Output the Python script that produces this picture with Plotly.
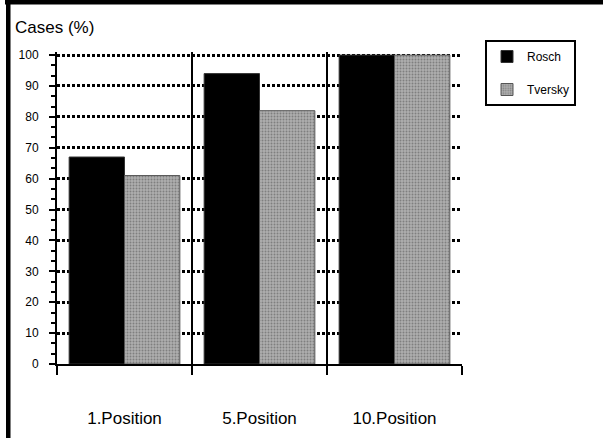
import plotly.graph_objects as go

# Share of cases (%) for each position
positions = ["1.Position", "5.Position", "10.Position"]
rosch = [67, 94, 100]
tversky = [61, 82, 100]

FONT = "Liberation Sans, Arial, sans-serif"

# Plot-area geometry in pixels (used to place frame shapes in paper units)
W, H = 603, 438
ML, MR, MT, MB = 57, 141, 52, 74
PW, PH = W - ML - MR, H - MT - MB
YMAX = 101

# Minor tick positions on the value axis (three steps per 10%)
minor_ticks = [round(i * 10 / 3, 4) for i in range(31)]


def px_x(p):
    return (p - ML) / PW


def px_y(p):
    return (H - MB - p) / PH


fig = go.Figure()
fig.add_trace(go.Bar(
    name="Rosch", x=positions, y=rosch, legendgroup="r",
    marker=dict(color="black", line=dict(color="#333333", width=1)),
))
fig.add_trace(go.Bar(
    name="Tversky", x=positions, y=tversky, legendgroup="t",
    marker=dict(
        color="#a8a8a8",
        line=dict(color="#555555", width=1),
        pattern=dict(shape=".", fgcolor="#505050", bgcolor="#aeaeae",
                     size=3, solidity=0.35),
    ),
))

# Outer frame: thick rules along the top and left edges
shapes = [
    dict(type="rect", xref="paper", yref="paper",
         x0=px_x(5), x1=px_x(W), y0=px_y(4.5), y1=px_y(0),
         fillcolor="black", line=dict(width=0)),
    dict(type="rect", xref="paper", yref="paper",
         x0=px_x(6), x1=px_x(10.5), y0=px_y(H), y1=px_y(0),
         fillcolor="black", line=dict(width=0)),
]

fig.update_layout(
    width=W, height=H,
    margin=dict(l=ML, r=MR, t=MT, b=MB, pad=0, autoexpand=False),
    paper_bgcolor="white", plot_bgcolor="white",
    font=dict(family=FONT, color="black", size=12),
    barmode="group", bargap=0.18, bargroupgap=0,
    showlegend=True,
    legend=dict(
        x=px_x(485), y=px_y(40), xanchor="left", yanchor="top",
        bordercolor="black", borderwidth=2, bgcolor="white",
        font=dict(family=FONT, size=12), tracegroupgap=14,
        itemwidth=30,
    ),
    title=dict(text="Cases (%)", xref="container", yref="container",
               x=15 / W, y=1 - 27 / H, xanchor="left", yanchor="middle",
               font=dict(family=FONT, size=17, color="black")),
    shapes=shapes,
)

fig.update_xaxes(
    type="category", range=[-0.5, 2.5], automargin=False,
    tickson="boundaries", ticks="outside", ticklen=9, tickwidth=2,
    tickcolor="black",
    showgrid=True, gridcolor="black", gridwidth=2,
    showline=True, linecolor="black", linewidth=2,
    tickfont=dict(family=FONT, size=17, color="black"),
    ticklabelstandoff=38,
)

fig.update_yaxes(
    range=[0, YMAX], dtick=10, tick0=0, automargin=False,
    ticks="outside", ticklen=6, tickwidth=2, tickcolor="black",
    showline=True, linecolor="black", linewidth=2,
    showgrid=True, gridcolor="black", gridwidth=3, griddash="3px,2px",
    zeroline=False,
    minor=dict(tickmode="array", tickvals=minor_ticks, ticks="outside",
               ticklen=4, tickwidth=2, tickcolor="black", showgrid=False),
    tickfont=dict(family=FONT, size=12, color="black"),
    ticklabelstandoff=8,
)

fig.write_html("out.html")
